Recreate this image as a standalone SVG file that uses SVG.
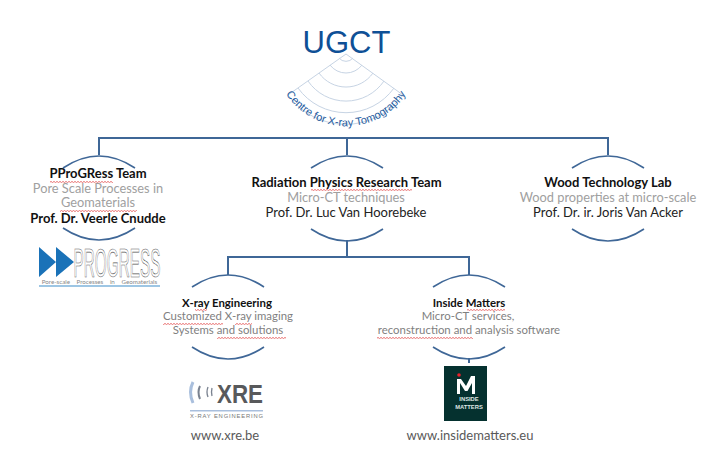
<svg xmlns="http://www.w3.org/2000/svg" width="705" height="464" viewBox="0 0 705 464">
<style>
text{font-family:Lato,"Open Sans","Liberation Sans",sans-serif;text-anchor:middle}
.c{fill:none;stroke:#3f6797;stroke-width:2}
.a{fill:none;stroke:#3f6797;stroke-width:1.6}
.b{font-size:13px;font-weight:700;fill:#111}
.d{font-size:13px;fill:#222}
.g{font-size:12.8px;fill:#a0a0a0}
.s{font-size:11.4px;font-weight:700;fill:#111}
.h{font-size:11.4px;fill:#7f7f7f}
.u{font-size:13px;fill:#595959}
.fan{fill:none;stroke:#c7d4e4;stroke-width:1}
.lg{font-family:"Liberation Sans",sans-serif}
</style>
<defs>
<pattern id="sq" width="3" height="2" patternUnits="userSpaceOnUse"><path d="M0 1.6L1.5 .4L3 1.6" fill="none" stroke="#e03030" stroke-width=".7"/></pattern>
<path id="arcT" d="M-36 12Q0-12 36 12" class="a"/>
<path id="arcB" d="M-36 0Q0 24 36 0" class="a"/>
<path id="lab" d="M280 83A72 72 0 0 0 412 83"/>
</defs>
<g id="connectors">
<path class="c" d="M99 155V138H608V155M347 138V155M347 240V257M228 275V257H469V275M469 358V363"/>
</g>
<g id="ugct">
<text class="lg" x="346.500" y="53" style="font-size:31px;fill:#0f5096">UGCT</text>
<path class="fan" d="M346 54L288 95A71 71 0 0 0 403 95Z"/>
<path class="fan" d="M339 58A9 9 0 0 0 353 58M330 65A20 20 0 0 0 362 65M319 73A33 33 0 0 0 373 73M308 81A46 46 0 0 0 384 81M298 88A59 59 0 0 0 394 88"/>
<text class="lg" style="font-size:11px;fill:#1f5c9e"><textPath href="#lab" startOffset="50%">Centre for X-ray Tomography</textPath></text>
</g>
<g id="progress-team">
<use href="#arcT" x="99" y="156"/><use href="#arcB" x="99" y="228"/>
<text class="b" x="98" y="178">PProGRess Team</text>
<text class="g" x="98" y="193">Pore Scale Processes in</text>
<text class="g" x="98" y="207">Geomaterials</text>
<text class="b" x="98" y="223">Prof. Dr. Veerle Cnudde</text>
<rect x="50" y="181" width="63" height="2" fill="url(#sq)"/>
<rect x="60" y="210" width="77" height="2" fill="url(#sq)"/>
<path d="M39 247L56 262L39 277ZM56 247L74 262L56 277Z" fill="#1a72b8"/>
<text class="lg" x="117" y="277" textLength="87" lengthAdjust="spacingAndGlyphs" style="font-size:41px;fill:none;stroke:#555;stroke-width:.7">PROGRESS</text>
<text x="99.500" y="284" style="font-size:6.200px;fill:#888;word-spacing:5px">Pore-scale Processes in Geomaterials</text>
<rect x="39" y="285.500" width="121" height="1" fill="#3d8ec9"/>
</g>
<g id="radiation-team">
<use href="#arcT" x="347" y="156"/><use href="#arcB" x="347" y="229"/>
<text class="b" x="346.500" y="187">Radiation Physics Research Team</text>
<text class="g" x="346" y="202">Micro-CT techniques</text>
<text class="d" x="346" y="217">Prof. Dr. Luc Van Hoorebeke</text>
<rect x="311" y="189" width="101" height="2" fill="url(#sq)"/>
</g>
<g id="wood-lab">
<use href="#arcT" x="608" y="156"/><use href="#arcB" x="608" y="229"/>
<text class="b" x="608" y="187">Wood Technology Lab</text>
<text class="g" x="608" y="202">Wood properties at micro-scale</text>
<text class="d" x="608" y="217">Prof. Dr. ir. Joris Van Acker</text>
</g>
<g id="xray-engineering">
<use href="#arcT" x="228" y="275"/><use href="#arcB" x="228" y="347"/>
<text class="s" x="227" y="307">X-ray Engineering</text>
<text class="h" x="228" y="320">Customized X-ray imaging</text>
<text class="h" x="228" y="334">Systems and solutions</text>
<rect x="195" y="309" width="12" height="2" fill="url(#sq)"/>
<rect x="163" y="323" width="60" height="2" fill="url(#sq)"/>
<rect x="235" y="323" width="17" height="2" fill="url(#sq)"/>
<rect x="217" y="337" width="69" height="2" fill="url(#sq)"/>
<path d="M193 382Q188 392 193 403" fill="none" stroke="#a9bfdd" stroke-width="3"/>
<path d="M200 386Q197 392 200 399" fill="none" stroke="#7a8290" stroke-width="2"/>
<path d="M208 387Q206 392 208 397M212 388Q211 392 212 396" fill="none" stroke="#7a8290" stroke-width="1.300"/>
<text class="lg" x="240" y="403" textLength="46" lengthAdjust="spacingAndGlyphs" style="font-weight:700;font-size:26px;fill:#58595b">XRE</text>
<rect x="190" y="410" width="73" height="1.500" fill="#a9bfdd"/>
<text class="lg" x="226.500" y="418" textLength="73" style="font-size:5.800px;fill:#777">X-RAY ENGINEERING</text>
<text class="u" x="225" y="440">www.xre.be</text>
</g>
<g id="inside-matters">
<use href="#arcT" x="469" y="275"/><use href="#arcB" x="469" y="347"/>
<text class="s" x="469" y="307">Inside Matters</text>
<text class="h" x="468" y="320">Micro-CT services,</text>
<text class="h" x="469" y="334">reconstruction and analysis software</text>
<rect x="467" y="309" width="38" height="2" fill="url(#sq)"/>
<rect x="377" y="337" width="96" height="2" fill="url(#sq)"/>
<rect x="444" y="366" width="43" height="55" fill="#05312f"/>
<path d="M457 394V379H461L466 386L471 376H475V394H472V383L467.500 391H465L460 383V394Z" fill="#fff"/>
<circle cx="459" cy="375" r="1.800" fill="#e8202a"/>
<text class="lg" x="469" y="401" style="font-size:5.800px;font-weight:700;fill:#dfe6e4">INSIDE</text>
<text class="lg" x="469" y="408.500" style="font-size:5.800px;font-weight:700;fill:#dfe6e4">MATTERS</text>
<text class="u" x="470" y="440">www.insidematters.eu</text>
</g>
</svg>
